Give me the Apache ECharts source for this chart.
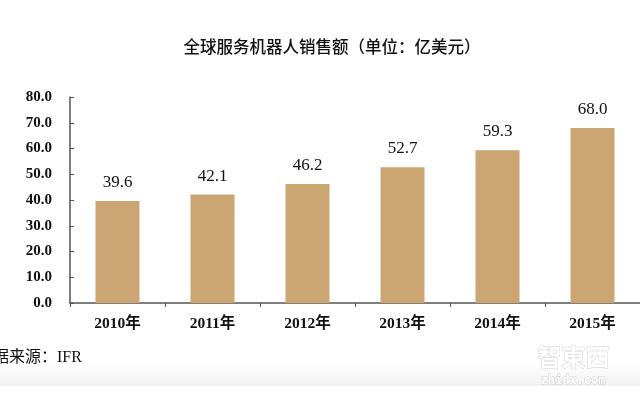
<!DOCTYPE html>
<html>
<head>
<meta charset="utf-8">
<script src="https://cdn.jsdelivr.net/npm/echarts@6/dist/echarts.min.js"></script>
<style>
  html, body { margin: 0; padding: 0; background: #fff; }
  .box { width: 640px; height: 399px; }
</style>
</head>
<body>
<div class="box"></div>
<script>
// 数据
var years = ["2010年", "2011年", "2012年", "2013年", "2014年", "2015年"];
var sales = [39.6, 42.1, 46.2, 52.7, 59.3, 68.0];
var yTicks = { min: 0, max: 80, interval: 10 };

(function () {
    var myChart = echarts.init(document.querySelector(".box"));
    var serif = "'Liberation Serif', 'Noto Sans CJK SC', serif";

    var option = {
        animation: false,
        title: {
            text: "全球服务机器人销售额（单位：亿美元）",
            left: 327,
            top: 33,
            textAlign: "center",
            textStyle: {
                fontFamily: "'Noto Sans CJK SC', sans-serif",
                fontSize: 16.5,
                fontWeight: 500,
                color: "#111"
            }
        },
        grid: {
            left: 70,
            top: 97,
            width: 576,
            height: 206
        },
        xAxis: {
            type: "category",
            data: years,
            axisLine: { lineStyle: { color: "#555", width: 1.5 } },
            axisTick: { show: true, length: 4, lineStyle: { color: "#555" } },
            axisLabel: {
                margin: 13,
                fontFamily: serif,
                fontWeight: "bold",
                fontSize: 15.5,
                color: "#111"
            }
        },
        yAxis: {
            type: "value",
            min: yTicks.min,
            max: yTicks.max,
            interval: yTicks.interval,
            splitLine: { show: false },
            axisLine: { show: true, lineStyle: { color: "#555", width: 1.5 } },
            axisTick: { show: true, inside: true, length: 4, lineStyle: { color: "#555" } },
            axisLabel: {
                margin: 18,
                fontFamily: serif,
                fontWeight: "bold",
                fontSize: 15,
                color: "#111",
                formatter: function (v) { return v.toFixed(1); }
            }
        },
        series: [
            {
                type: "bar",
                data: sales,
                barWidth: 44,
                itemStyle: { color: "#CBA672" },
                label: {
                    show: true,
                    position: "top",
                    distance: 10,
                    fontFamily: serif,
                    fontSize: 17,
                    color: "#111",
                    formatter: function (p) { return p.value.toFixed(1); }
                }
            }
        ],
        graphic: [
            {
                type: "rect",
                left: 0,
                top: 364,
                z: -1,
                shape: { width: 640, height: 22 },
                style: {
                    fill: new echarts.graphic.LinearGradient(0, 0, 0, 1, [
                        { offset: 0, color: "#ffffff" },
                        { offset: 1, color: "#f1f1f1" }
                    ])
                }
            },
            {
                type: "text",
                left: -7,
                top: 350,
                style: {
                    text: "据来源：IFR",
                    font: "16px 'Liberation Serif', 'Noto Sans CJK SC', serif",
                    fill: "#111"
                }
            },
            {
                type: "text",
                left: 537,
                top: 344,
                style: {
                    text: "智東西",
                    font: "bold 24px 'Noto Sans CJK SC', sans-serif",
                    fill: "#ffffff",
                    stroke: "#d4d4d4",
                    lineWidth: 1
                }
            },
            {
                type: "text",
                left: 540,
                top: 374,
                style: {
                    text: "zhidx.com",
                    font: "bold 12px 'DejaVu Sans Mono', monospace",
                    fill: "#ffffff",
                    stroke: "#d0d0d0",
                    lineWidth: 1
                }
            }
        ]
    };

    myChart.setOption(option);

    window.addEventListener("resize", function () {
        myChart.resize();
    });
})();
</script>
</body>
</html>
